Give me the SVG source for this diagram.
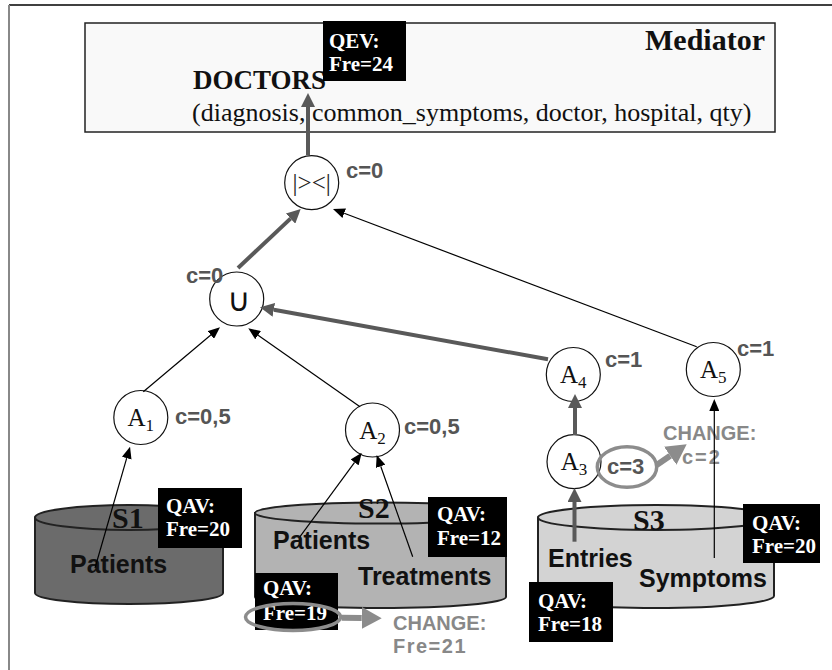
<svg xmlns="http://www.w3.org/2000/svg" width="832" height="670" viewBox="0 0 832 670">
<style>
.serif{font-family:"Liberation Serif","Times New Roman",serif}
.sans{font-family:"Liberation Sans",Arial,sans-serif}
.node{fill:#fff;stroke:#111;stroke-width:1.2}
.ntext{font-family:"Liberation Serif","Times New Roman",serif;font-size:25px;fill:#111;text-anchor:middle}
.sub{font-size:17px}
.cost{font-family:"Liberation Sans",Arial,sans-serif;font-weight:bold;font-size:22px;fill:#555}
.chg{font-family:"Liberation Sans",Arial,sans-serif;font-weight:bold;font-size:20px;fill:#888}
.qbox{fill:#000}
.qtext{font-family:"Liberation Serif","Times New Roman",serif;font-weight:bold;font-size:21px;fill:#fff}
.cyl{stroke:#222;stroke-width:2}
.slabel{font-family:"Liberation Serif","Times New Roman",serif;font-weight:bold;font-size:30px;fill:#111}
.rel{font-family:"Liberation Sans",Arial,sans-serif;font-weight:bold;font-size:25px;fill:#111}
.thin{stroke:#000;stroke-width:1.2;fill:none}
.thick{stroke:#595959;stroke-width:4;fill:none}
.chline{stroke:#8c8c8c;stroke-width:6;fill:none}
.ring{fill:none;stroke:#8c8c8c;stroke-width:3.5}
</style>
<defs>
<marker id="ah" markerUnits="userSpaceOnUse" markerWidth="12" markerHeight="10" refX="0" refY="5" orient="auto"><path d="M0,0 L12,5 L0,10 z" fill="#000"/></marker>
<marker id="ahg" markerUnits="userSpaceOnUse" markerWidth="14" markerHeight="14" refX="0" refY="7" orient="auto"><path d="M0,0 L14,7 L0,14 z" fill="#595959"/></marker>
<marker id="ahc" markerUnits="userSpaceOnUse" markerWidth="20" markerHeight="22" refX="0" refY="11" orient="auto"><path d="M0,0 L20,11 L0,22 z" fill="#8c8c8c"/></marker>
</defs>
<rect width="832" height="670" fill="#fff"/>
<line x1="9" y1="5" x2="832" y2="5" stroke="#000" stroke-width="1.5"/>
<line x1="9" y1="5" x2="9" y2="670" stroke="#888" stroke-width="2"/>

<g id="mediator">
<rect x="85" y="23" width="690" height="109" fill="#f9f9f9" stroke="#222" stroke-width="1.5"/>
<text class="serif" x="765" y="50" font-size="30" font-weight="bold" text-anchor="end" fill="#111">Mediator</text>
<text class="serif" x="193" y="89" font-size="27" font-weight="bold" fill="#111">DOCTORS</text>
<text class="serif" x="192" y="121" font-size="26" fill="#111">(diagnosis, common_symptoms, doctor, hospital, qty)</text>
</g>
<g id="qev">
<rect class="qbox" x="323" y="21" width="83" height="60"/>
<text class="qtext" x="329" y="48">QEV:</text>
<text class="qtext" x="329" y="71">Fre=24</text>
</g>

<g id="S1">
<path class="cyl" fill="#6b6b6b" d="M35,517.5 L35,593 A94,11 0 0 0 223,593 L223,517.5 Z"/>
<ellipse class="cyl" fill="#6b6b6b" cx="129" cy="517.5" rx="94" ry="12.5"/>
<text class="slabel" x="112" y="528">S1</text>
<text class="rel" x="70" y="573">Patients</text>
</g>
<g id="S2">
<path class="cyl" fill="#b3b3b3" d="M255,513 L255,597 A125.5,11 0 0 0 506,597 L506,513 Z"/>
<ellipse class="cyl" fill="#b3b3b3" cx="380.5" cy="513" rx="125.5" ry="10.5"/>
<text class="slabel" x="358" y="518">S2</text>
<text class="rel" x="273" y="549">Patients</text>
<text class="rel" x="358" y="585">Treatments</text>
</g>
<g id="S3">
<path class="cyl" fill="#d3d3d3" d="M538,517.5 L538,596 A118,12 0 0 0 774,596 L774,517.5 Z"/>
<ellipse class="cyl" fill="#d3d3d3" cx="656" cy="517.5" rx="118" ry="12.5"/>
<text class="slabel" x="633" y="530">S3</text>
<text class="rel" x="548" y="567">Entries</text>
<text class="rel" x="639" y="587">Symptoms</text>
</g>

<g id="qav-s1">
<rect class="qbox" x="158" y="488" width="84" height="60"/>
<text class="qtext" x="166" y="513">QAV:</text>
<text class="qtext" x="166" y="536">Fre=20</text>
</g>
<g id="qav-s2">
<rect class="qbox" x="428" y="497" width="79" height="60"/>
<text class="qtext" x="437" y="521">QAV:</text>
<text class="qtext" x="437" y="545">Fre=12</text>
</g>
<g id="qav-s2-change">
<rect class="qbox" x="255" y="573" width="83" height="57"/>
<text class="qtext" x="263" y="595">QAV:</text>
<text class="qtext" x="263" y="620">Fre=19</text>
<ellipse class="ring" cx="293" cy="617" rx="47.5" ry="13.5"/>
<text class="chg" x="393" y="630">CHANGE:</text>
<text class="chg" x="393" y="653" letter-spacing="1.5">Fre=21</text>
</g>
<g id="qav-s3">
<rect class="qbox" x="743" y="504" width="77" height="59"/>
<text class="qtext" x="752" y="530">QAV:</text>
<text class="qtext" x="752" y="553">Fre=20</text>
</g>
<g id="qav-s3-entries">
<rect class="qbox" x="529" y="582" width="84" height="60"/>
<text class="qtext" x="538" y="608">QAV:</text>
<text class="qtext" x="538" y="631">Fre=18</text>
</g>

<g id="join">
<circle class="node" cx="311.7" cy="182.7" r="27"/>
<text x="311.7" y="191" font-family="Liberation Serif,serif" font-size="25" text-anchor="middle" fill="#222">|&gt;&lt;|</text>
<text class="cost" x="346" y="178">c=0</text>
</g>
<g id="union">
<circle class="node" cx="236.7" cy="299" r="27"/>
<text x="239" y="311" font-family="DejaVu Sans,sans-serif" font-size="32" text-anchor="middle" fill="#111">∪</text>
<text class="cost" x="186" y="283">c=0</text>
</g>
<g id="A1">
<circle class="node" cx="140.8" cy="417.5" r="27"/>
<text class="ntext" x="140.8" y="426">A<tspan class="sub" dy="5">1</tspan></text>
<text class="cost" x="175" y="424">c=0,5</text>
</g>
<g id="A2">
<circle class="node" cx="372.5" cy="430" r="27"/>
<text class="ntext" x="372.5" y="438.5">A<tspan class="sub" dy="5">2</tspan></text>
<text class="cost" x="404" y="434">c=0,5</text>
</g>
<g id="A3">
<circle class="node" cx="574" cy="461.7" r="27"/>
<text class="ntext" x="574" y="470">A<tspan class="sub" dy="5">3</tspan></text>
<ellipse class="ring" cx="627" cy="467" rx="29.7" ry="20.3"/>
<text class="cost" x="607" y="474">c=3</text>
<text class="chg" x="663" y="440">CHANGE:</text>
<text class="chg" x="682" y="464" letter-spacing="2">c=2</text>
</g>
<g id="A4">
<circle class="node" cx="573.3" cy="374.5" r="27"/>
<text class="ntext" x="573.3" y="383">A<tspan class="sub" dy="5">4</tspan></text>
<text class="cost" x="605" y="367">c=1</text>
</g>
<g id="A5">
<circle class="node" cx="713.3" cy="369.5" r="27"/>
<text class="ntext" x="713.3" y="378">A<tspan class="sub" dy="5">5</tspan></text>
<text class="cost" x="737" y="356">c=1</text>
</g>

<g id="connectors">
<line class="thick" x1="308" y1="155" x2="308" y2="107" marker-end="url(#ahg)"/>
<line class="thick" x1="238" y1="268" x2="290.5" y2="218.6" marker-end="url(#ahg)"/>
<line class="thin" x1="696.7" y1="346.7" x2="344.2" y2="213.3" marker-end="url(#ah)"/>
<line class="thick" x1="548" y1="359.3" x2="273.8" y2="309.8" marker-end="url(#ahg)"/>
<line class="thin" x1="143.3" y1="391.7" x2="210.8" y2="335" marker-end="url(#ah)"/>
<line class="thin" x1="360" y1="406.7" x2="258.1" y2="335.2" marker-end="url(#ah)"/>
<line class="thin" x1="95" y1="568" x2="126.7" y2="458.2" marker-end="url(#ah)"/>
<line class="thin" x1="300" y1="536.7" x2="354.6" y2="462.4" marker-end="url(#ah)"/>
<line class="thin" x1="412.7" y1="556.7" x2="380.7" y2="466.3" marker-end="url(#ah)"/>
<line class="thick" x1="574.5" y1="541.7" x2="574.5" y2="502" marker-end="url(#ahg)"/>
<line class="thick" x1="575" y1="435" x2="575" y2="408" marker-end="url(#ahg)"/>
<line class="thin" x1="714.3" y1="558" x2="714.3" y2="411" marker-end="url(#ah)"/>
<line class="chline" x1="656.7" y1="465" x2="670.2" y2="455.7" marker-end="url(#ahc)"/>
<line class="chline" x1="341.7" y1="617.7" x2="361.7" y2="618" marker-end="url(#ahc)"/>
</g>
</svg>
